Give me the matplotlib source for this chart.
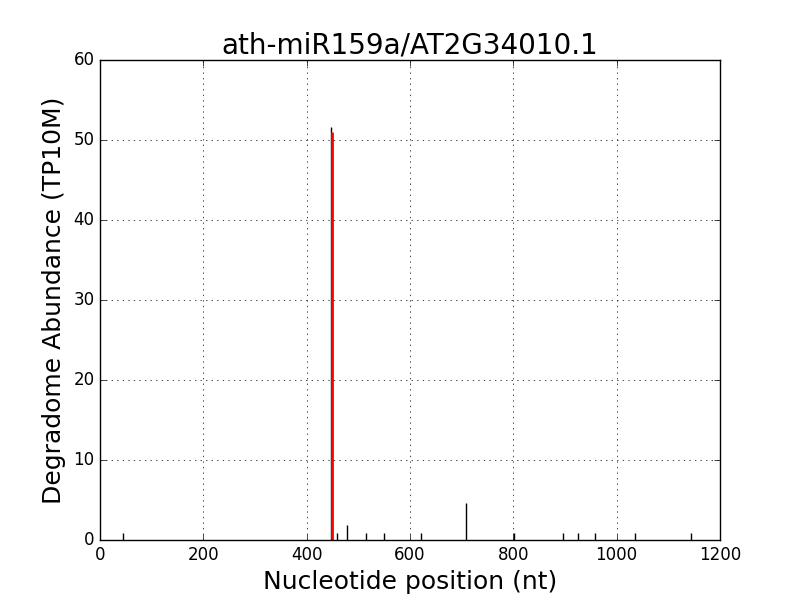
import matplotlib
matplotlib.use("Agg")
import matplotlib.pyplot as plt

plt.style.use("classic")

positions = [45, 448, 459, 479, 515, 550, 622, 709, 801, 897, 926, 958, 1036, 1143]
abundance = [0.93, 51.6, 0.93, 1.86, 0.93, 0.93, 0.93, 4.65, 0.93, 0.93, 0.93, 0.93, 0.93, 0.93]
target_pos = [449]
target_abund = [51.0]

fig = plt.figure(figsize=(8, 6), dpi=100, facecolor="white")
ax = fig.add_subplot(111)
ax.vlines(positions, 0, abundance, colors="black", linewidth=1)
ax.vlines(target_pos, 0, target_abund, colors="red", linewidth=2)
ax.set_xlim(0, 1200)
ax.set_ylim(0, 60)
ax.grid(True)
ax.set_title("ath-miR159a/AT2G34010.1", fontsize=20)
ax.set_xlabel("Nucleotide position (nt)", fontsize=18)
ax.set_ylabel("Degradome Abundance (TP10M)", fontsize=18)
fig.savefig("out.png", dpi=100, facecolor="white")
